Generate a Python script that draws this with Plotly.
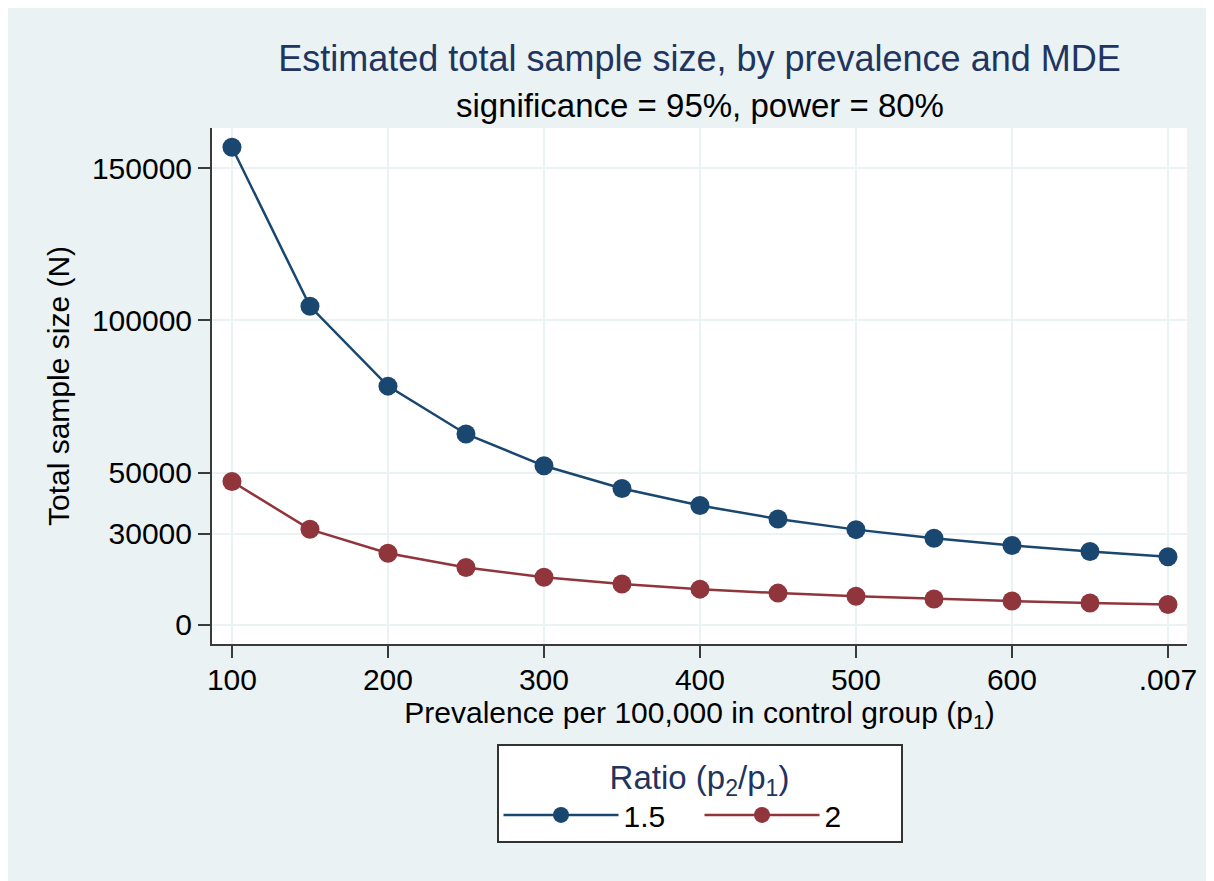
import plotly.graph_objects as go

# ---- data ----
prevalence = [100, 150, 200, 250, 300, 350, 400, 450, 500, 550, 600, 650, 700]
n_ratio_15 = [156800, 104600, 78400, 62700, 52250, 44800, 39200, 34800, 31300, 28500, 26100, 24100, 22400]
n_ratio_2 = [47100, 31400, 23550, 18850, 15700, 13450, 11770, 10460, 9420, 8560, 7850, 7240, 6730]
series_names = ["1.5", "2"]
x_tickvals = [100, 200, 300, 400, 500, 600, 700]
x_ticktext = ["100", "200", "300", "400", "500", "600", ".007"]
y_tickvals = [0, 30000, 50000, 100000, 150000]
y_ticktext = ["0", "30000", "50000", "100000", "150000"]

BLUE = "#1A476F"
RED = "#90353B"
TITLE_C = "#1F3560"
BG = "#EAF2F3"
GRID = "#EAF2F3"
AXIS = "#3a3a3a"
FONT = "Liberation Sans, Arial, sans-serif"

W, H = 1214, 881
OFF = 8  # the page body offsets the figure by 8 px
ML, MT = 212 - OFF, 128 - OFF
PW, PH = 975, 516
MR, MB = W - ML - PW, H - MT - PH


def px_x(px):
    return (px - OFF - ML) / PW


def px_y(py):
    return (MT + PH - (py - OFF)) / PH


fig = go.Figure()
fig.add_trace(go.Scatter(
    x=prevalence, y=n_ratio_15, name=series_names[0], mode="lines+markers",
    line=dict(color=BLUE, width=2.5),
    marker=dict(color=BLUE, size=19, symbol="circle"),
))
fig.add_trace(go.Scatter(
    x=prevalence, y=n_ratio_2, name=series_names[1], mode="lines+markers",
    line=dict(color=RED, width=2.5),
    marker=dict(color=RED, size=19, symbol="circle"),
))

fig.update_layout(
    width=W, height=H,
    margin=dict(l=ML, r=MR, t=MT, b=MB, autoexpand=False),
    paper_bgcolor=BG, plot_bgcolor="white",
    font=dict(family=FONT, size=30, color="black"),
    title=dict(
        text="Estimated total sample size, by prevalence and MDE",
        font=dict(family=FONT, size=36, color=TITLE_C),
        x=0.5, xref="paper", xanchor="center",
        y=1 - (58 - OFF) / H, yref="container", yanchor="middle",
    ),
    annotations=[
        dict(text="significance = 95%, power = 80%", showarrow=False,
             xref="paper", yref="paper", x=0.5, xanchor="center",
             y=px_y(106), yanchor="middle",
             font=dict(family=FONT, size=33, color="black")),
    ],
    showlegend=True,
    legend=dict(
        orientation="h",
        x=0.5, xanchor="center",
        y=px_y(744), yanchor="top",
        bgcolor="white", bordercolor="#333333", borderwidth=2,
        font=dict(family=FONT, size=30, color="black"),
        title=dict(text="Ratio (p<sub>2</sub>/p<sub>1</sub>)", side="top center",
                   font=dict(family=FONT, size=33, color=TITLE_C)),
        entrywidth=71, entrywidthmode="pixels",
        itemwidth=115,
        tracegroupgap=0,
    ),
    xaxis=dict(
        range=[87.2, 712.2],
        tickmode="array", tickvals=x_tickvals, ticktext=x_ticktext,
        ticks="outside", ticklen=12, tickwidth=2, tickcolor=AXIS,
        ticklabelstandoff=-4,
        showline=True, linecolor=AXIS, linewidth=2,
        showgrid=True, gridcolor=GRID, gridwidth=2,
        zeroline=False,
        tickfont=dict(family=FONT, size=30, color="black"),
        title=dict(text="Prevalence per 100,000 in control group (p<sub>1</sub>)",
                   font=dict(family=FONT, size=30, color="black"), standoff=0),
    ),
    yaxis=dict(
        range=[-6240, 163130],
        tickmode="array", tickvals=y_tickvals, ticktext=y_ticktext,
        ticks="outside", ticklen=12, tickwidth=2, tickcolor=AXIS,
        showline=True, linecolor=AXIS, linewidth=2,
        showgrid=True, gridcolor=GRID, gridwidth=2,
        zeroline=False,
        tickfont=dict(family=FONT, size=30, color="black"),
        title=dict(text="Total sample size (N)",
                   font=dict(family=FONT, size=30, color="black"), standoff=13),
    ),
)

fig.write_html("out.html")
